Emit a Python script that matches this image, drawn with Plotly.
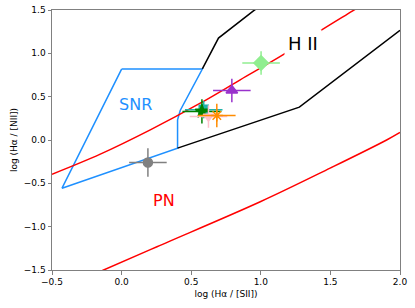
import plotly.graph_objects as go

# Boundary lines
red_upper_x = [-0.5, -0.153, 0.206, 0.565, 0.852, 1.167, 1.414, 1.66, 1.75]
red_upper_y = [-0.395, -0.163, 0.117, 0.425, 0.694, 0.99, 1.246, 1.49, 1.58]
red_lower_x = [-0.2, -0.129, 0.254, 1.0, 1.498, 1.904, 2.0]
red_lower_y = [-1.55, -1.5, -1.231, -0.71, -0.325, 0.0, 0.087]
black_upper_x = [0.58, 0.696, 0.947, 1.0]
black_upper_y = [0.82, 1.176, 1.49, 1.55]
black_lower_x = [0.402, 1.277, 2.0]
black_lower_y = [-0.094, 0.379, 1.265]
snr_x = [0.0, 0.58, 0.421, 0.402, 0.402, -0.428, 0.0]
snr_y = [0.818, 0.818, 0.341, 0.233, -0.094, -0.556, 0.818]

# Data points
pt_x = [0.189, 0.59, 0.577, 0.624, 0.684, 0.792, 1.002]
pt_y = [-0.26, 0.35, 0.329, 0.271, 0.283, 0.572, 0.888]
pt_xerr = [0.135, 0.135, 0.14, 0.135, 0.135, 0.135, 0.135]
pt_yerr = [0.165, 0.1, 0.14, 0.13, 0.135, 0.135, 0.135]
pt_colors = ["gray", "lightseagreen", "green", "pink", "darkorange", "darkorchid", "lightgreen"]
pt_symbols = ["circle", "square", "star", "triangle-down", "asterisk-open", "triangle-up", "diamond"]
pt_sizes = [9, 9, 10, 9, 10, 10, 11]

fig = go.Figure()
fig.add_trace(go.Scatter(x=snr_x, y=snr_y, mode="lines",
                         line=dict(color="#1E90FF", width=1.5), showlegend=False))
fig.add_trace(go.Scatter(x=red_upper_x, y=red_upper_y, mode="lines", line_shape="spline",
                         line=dict(color="red", width=1.5), showlegend=False))
fig.add_trace(go.Scatter(x=red_lower_x, y=red_lower_y, mode="lines", line_shape="spline",
                         line=dict(color="red", width=1.5), showlegend=False))
fig.add_trace(go.Scatter(x=black_upper_x, y=black_upper_y, mode="lines",
                         line=dict(color="black", width=1.5), showlegend=False))
fig.add_trace(go.Scatter(x=black_lower_x, y=black_lower_y, mode="lines",
                         line=dict(color="black", width=1.5), showlegend=False))

for i in range(len(pt_x)):
    fig.add_trace(go.Scatter(
        x=[pt_x[i]], y=[pt_y[i]], mode="markers",
        marker=dict(color=pt_colors[i], symbol=pt_symbols[i], size=pt_sizes[i],
                    line=dict(color=pt_colors[i], width=1.5)),
        error_x=dict(type="constant", value=pt_xerr[i], color=pt_colors[i], thickness=1.5, width=0),
        error_y=dict(type="constant", value=pt_yerr[i], color=pt_colors[i], thickness=1.5, width=0),
        showlegend=False))

fig.add_annotation(x=0.103, y=0.404, text="SNR", showarrow=False,
                   font=dict(family="DejaVu Sans", size=16, color="#1E90FF"))
fig.add_annotation(x=1.302, y=1.111, text="H II", showarrow=False, bgcolor="white", borderpad=3,
                   font=dict(family="DejaVu Sans", size=18, color="black"))
fig.add_annotation(x=0.304, y=-0.693, text="PN", showarrow=False,
                   font=dict(family="DejaVu Sans", size=16, color="red"))

axis_common = dict(showgrid=False, zeroline=False, showline=True, linecolor="#808080", linewidth=1,
                   mirror=True, ticks="outside", ticklen=3.5, tickcolor="#808080",
                   tickfont=dict(family="DejaVu Sans", size=9, color="black"))
fig.update_xaxes(range=[-0.5, 2.0], tickvals=[-0.5, 0.0, 0.5, 1.0, 1.5, 2.0],
                 ticktext=["\u22120.5", "0.0", "0.5", "1.0", "1.5", "2.0"],
                 title=dict(text="log (H\u03b1 / [SII])", font=dict(family="DejaVu Sans", size=9, color="black"), standoff=4),
                 automargin=False, **axis_common)
fig.update_yaxes(range=[-1.5, 1.5], tickvals=[-1.5, -1.0, -0.5, 0.0, 0.5, 1.0, 1.5],
                 ticktext=["\u22121.5", "\u22121.0", "\u22120.5", "0.0", "0.5", "1.0", "1.5"],
                 title=dict(text="log (H\u03b1 / [NII])", font=dict(family="DejaVu Sans", size=9, color="black"), standoff=4),
                 automargin=False, **axis_common)
fig.update_layout(width=415, height=308, margin=dict(l=52, r=15, t=10, b=38),
                  plot_bgcolor="white", paper_bgcolor="white")
fig.write_html("out.html", config={"displayModeBar": False},
               post_script="document.body.style.margin='0';document.body.style.overflow='hidden';")
